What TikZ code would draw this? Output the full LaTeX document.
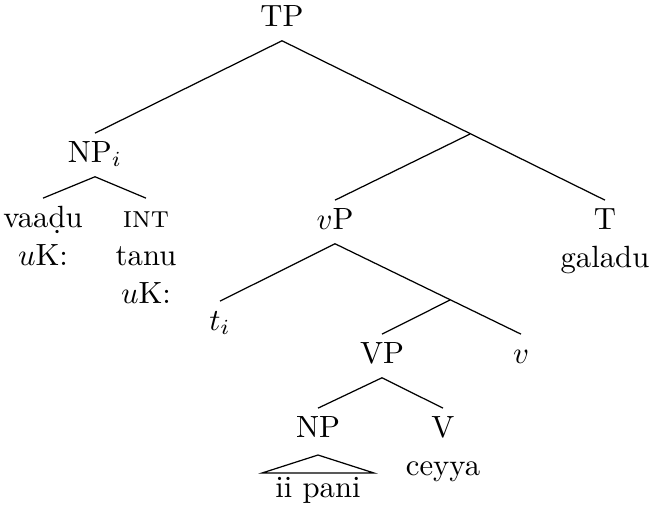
\documentclass[tikz,border=0pt]{standalone}
\begin{document}
\begin{tikzpicture}[x=0.3257pt,y=-0.3257pt,
  cat/.style={anchor=base,inner sep=0pt,text height=9.2pt,text depth=4.6pt},
  word/.style={anchor=base,inner sep=0pt},
  branch/.style={line width=0.4pt}]
\useasboundingbox (0,0) rectangle (654,510);
% nodes
\node[cat] (TP) at (282,26) {TP};
\node[cat] (NPi) at (95,162) {NP$_i$};
\node[cat] (T) at (605,229) {T};
\node[word] (galadu) at (605,267) {galadu};
\coordinate (J1) at (470,134);
\node[cat] (vP) at (335,229) {$v$P};
\node[cat] (ti) at (220,330) {$t_i$};
\coordinate (J2) at (450,300);
\node[cat] (v) at (521,363) {$v$};
\node[cat] (VP) at (382,363) {VP};
\node[cat] (NP) at (318,437) {NP};
\node[cat] (V) at (443,437) {V};
\node[word] (ceyya) at (443,475) {ceyya};
\coordinate (apex) at (318,455);
\coordinate (triL) at (262,473);
\coordinate (triR) at (374,473);
\node[word] (iipani) at (318,497) {ii pani};
\node[cat] (vaadu) at (43,227) {vaaḍu};
\node[word] (vaaduK) at (43,265) {$u$K:};
\node[cat] (INT) at (146,227) {\textsc{int}};
\node[word] (tanu) at (146,265) {tanu};
\node[word] (tanuK) at (146,303) {$u$K:};
% branches
\draw[branch] (TP.south) -- (NPi.north);
\draw[branch] (TP.south) -- (T.north);
\draw[branch] (J1) -- (vP.north);
\draw[branch] (NPi.south) -- (vaadu.north);
\draw[branch] (NPi.south) -- (INT.north);
\draw[branch] (vP.south) -- (ti.north);
\draw[branch] (vP.south) -- (v.north);
\draw[branch] (J2) -- (VP.north);
\draw[branch] (VP.south) -- (NP.north);
\draw[branch] (VP.south) -- (V.north);
\draw[branch] (apex) -- (triL) -- (triR) -- cycle;
\end{tikzpicture}
\end{document}
